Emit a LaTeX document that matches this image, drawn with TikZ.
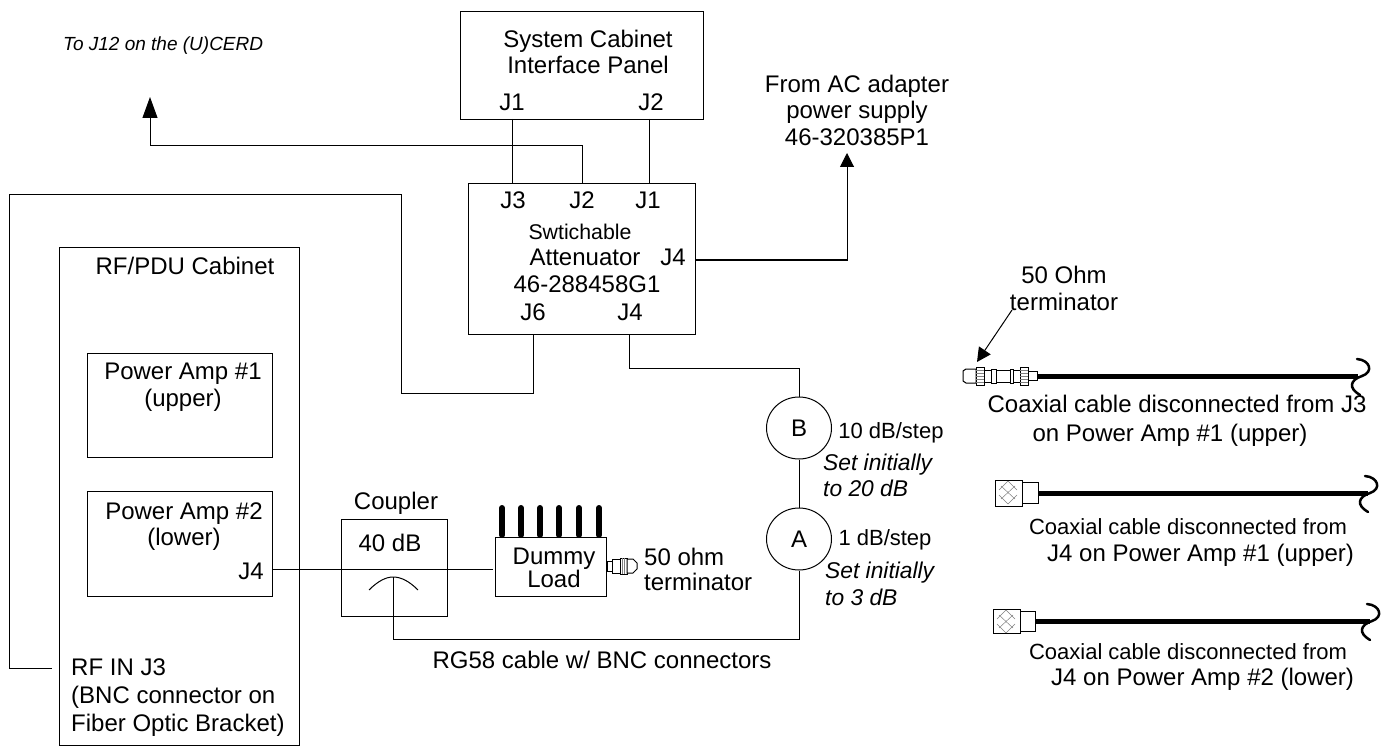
\documentclass[tikz,border=0pt]{standalone}
\usepackage{fontspec}
\setmainfont{Liberation Sans}
\usetikzlibrary{arrows.meta}
\usetikzlibrary{shapes}

\begin{document}
\begin{tikzpicture}[x=1pt,y=-1pt]
\tikzset{font=\fontsize{24}{26.5}\selectfont}
\tikzset{box/.style={draw, line width=1pt, inner sep=0pt, anchor=north west}}
\tikzset{dial/.style={draw, ellipse, line width=1pt, minimum width=65pt, minimum height=62pt, inner sep=0pt}}
\tikzset{txt/.style={inner sep=0pt, align=center}}
\tikzset{steptxt/.style={txt, font=\fontsize{22}{26}\selectfont}}
\tikzset{note/.style={inner sep=0pt, align=left, anchor=west, font=\fontsize{22.8}{26.5}\selectfont\itshape}}
\tikzset{wire/.style={draw, line width=1pt}}
\tikzset{feed/.style={draw, line width=1pt, -{Triangle[length=14pt,width=14pt]}}}
\tikzset{longfeed/.style={draw, line width=1pt, -{Triangle[length=21pt,width=15pt]}}}
\tikzset{coax/.style={draw, line width=5pt}}
\tikzset{tail/.style={draw, line width=2.5pt, line cap=round}}
\tikzset{fin/.style={draw, line width=6pt, line cap=round}}
\tikzset{plug/.style={draw, line width=1pt, fill=white}}
\tikzset{mesh/.style={draw, line width=0.5pt, gray}}
\useasboundingbox (0,0) rectangle (1387,746);
% boxes
\node[box, minimum width=243pt, minimum height=108pt] (panel) at (460,11) {};
\node[box, minimum width=227pt, minimum height=151pt] (atten) at (468,183) {};
\node[box, minimum width=240pt, minimum height=498pt] (cabinet) at (59,247) {};
\node[box, minimum width=185pt, minimum height=104pt] (ampone) at (87,353) {};
\node[box, minimum width=185pt, minimum height=105pt] (amptwo) at (87,491) {};
\node[box, minimum width=106pt, minimum height=97pt] (coupler) at (341,519) {};
\node[box, minimum width=111pt, minimum height=59pt] (dummy) at (495,537) {};
\node[dial] (stepb) at (799,428) {B};
\node[dial] (stepa) at (799,539) {A};
% ports
\coordinate (panelJa) at (512,119);
\coordinate (panelJb) at (649,119);
\coordinate (attenJc) at (512,183);
\coordinate (attenJb) at (582,183);
\coordinate (attenJa) at (649,183);
\coordinate (attenJd) at (695,260);
\coordinate (attenJf) at (533,334);
\coordinate (attenJe) at (629,334);
\coordinate (cerd) at (150,97);
\coordinate (adapter) at (847,153);
\coordinate (rfin) at (52,668);
\coordinate (ampJd) at (272,569);
\coordinate (loadin) at (493,569);
\coordinate (tap) at (393,577);
\coordinate (arcleft) at (369,590);
\coordinate (arcright) at (418,590);
% wires
\draw[wire] (panelJa) -- (attenJc);
\draw[wire] (panelJb) -- (attenJa);
\draw[longfeed] (attenJb) -- (582,146) -| (cerd);
\draw[feed] (attenJd) -| (adapter);
\draw[wire] (attenJf) -- (533,393) -| (401,195) -| (9,668) -- (rfin);
\draw[wire] (attenJe) -- (629,368) -| (stepb.north);
\draw[wire] (stepb) -- (stepa);
\draw[wire] (ampJd) -- (loadin);
\draw[wire] (stepa.south) -- (799,639) -| (tap);
\draw[wire] (arcleft) .. controls (378,581) and (386,577) .. (tap) .. controls (401,577) and (409,581) .. (arcright);
% load fins
\foreach \x in {502,521,540,559,579,599} {
  \draw[fin] (\x,508) -- (\x,535);
}
% load terminator
\draw[plug] (607,561) rectangle (612,571);
\draw[plug] (612,559) rectangle (620,573);
\draw[plug] (620,558) rectangle (627,574);
\draw[plug] (627,559) -- (633,559) -- (637,563) -- (637,569) -- (633,573) -- (627,573) -- cycle;
\foreach \x in {622,624} {
  \draw[mesh] (\x,558) -- (\x,574);
}
% cables
\coordinate (tipa) at (1037,376);
\coordinate (enda) at (1358,376);
\coordinate (tipb) at (1038,493);
\coordinate (endb) at (1368,493);
\coordinate (tipc) at (1035,621);
\coordinate (endc) at (1370,621);
\draw[coax] (tipa) -- (enda);
\draw[coax] (tipb) -- (endb);
\draw[coax] (tipc) -- (endc);
\foreach \y/\x in {376/1362,493/1370,621/1372} {
  \draw[tail] (\x-5,\y-17) .. controls (\x+8,\y-16) and (\x+12,\y-4) .. (\x,\y) .. controls (\x-12,\y+4) and (\x-14,\y+12) .. (\x-2,\y+19);
}
% top connector
\draw[plug] (963,371) -- (966,369) -- (976,369) -- (976,383) -- (966,383) -- (963,381) -- cycle;
\draw[plug] (976,367) rectangle (984,385);
\draw[plug] (984,370) rectangle (991,382);
\draw[plug] (991,369) rectangle (996,383);
\draw[plug] (996,370) rectangle (1010,382);
\draw[plug] (1010,369) rectangle (1013,383);
\draw[plug] (1013,370) rectangle (1020,382);
\draw[plug] (1020,367) rectangle (1028,385);
\draw[plug] (1028,371) rectangle (1037,380);
\foreach \y in {370,373,376,379,382} {
  \draw[mesh] (976,\y) -- (984,\y);
  \draw[mesh] (1020,\y) -- (1028,\y);
}
% crimp connectors
\draw[plug] (995,480) rectangle (1022,506);
\draw[plug] (1022,482) rectangle (1038,503);
\draw[plug] (993,609) rectangle (1020,633);
\draw[plug] (1020,611) rectangle (1035,631);
\foreach \y/\x in {480/995,609/993} {
  \draw[mesh] (\x+6,\y+6) -- (\x+20,\y+19);
  \draw[mesh] (\x+20,\y+6) -- (\x+6,\y+19);
  \draw[mesh] (\x+13,\y+1) -- (\x+22,\y+10);
  \draw[mesh] (\x+13,\y+1) -- (\x+4,\y+10);
  \draw[mesh] (\x+13,\y+24) -- (\x+22,\y+15);
  \draw[mesh] (\x+13,\y+24) -- (\x+4,\y+15);
}
% terminator pointer
\coordinate (termtail) at (1012,310);
\coordinate (termhead) at (977,362);
\draw[feed] (termtail) -- (termhead);
% labels
\node[note, font=\fontsize{19}{24}\selectfont\itshape] (cerdtxt) at (63,46) {To J12 on the (U)CERD};
\node[txt] (paneltxt) at (588,52) {System Cabinet\\Interface Panel};
\node[txt] (pj1) at (512,102) {J1};
\node[txt] (pj2) at (651,102) {J2};
\node[txt] (aj3) at (513,200) {J3};
\node[txt] (aj2) at (582,200) {J2};
\node[txt] (aj1) at (648,200) {J1};
\node[txt, font=\fontsize{21.3}{26}\selectfont] (sw) at (580,232) {Swtichable};
\node[txt] (att) at (585,257) {Attenuator};
\node[txt] (aj4) at (673,257) {J4};
\node[txt] (apn) at (587,284) {46-288458G1};
\node[txt] (aj6) at (533,312) {J6};
\node[txt] (aj5) at (630,312) {J4};
\node[txt] (actxt) at (857,110) {From AC adapter\\power supply\\46-320385P1};
\node[txt] (cabtxt) at (185,266) {RF/PDU Cabinet};
\node[txt] (onetxt) at (183,387) {Power Amp \#1\\(upper)};
\node[txt] (twotxt) at (184,526.5) {Power Amp \#2\\(lower)};
\node[txt] (j4txt) at (251,571) {J4};
\node[txt] (coutxt) at (396,503) {Coupler};
\node[txt] (dbtxt) at (390,543) {40 dB};
\node[txt, font=\fontsize{24}{21}\selectfont] (loadtxt) at (554,568) {Dummy\\Load};
\node[txt, align=left, anchor=west, font=\fontsize{24}{25}\selectfont] (termtxt) at (644,569.5) {50 ohm\\terminator};
\node[txt, align=left, anchor=west, font=\fontsize{24}{28}\selectfont] (rftxt) at (71,698) {RF IN J3\\(BNC connector on\\Fiber Optic Bracket)};
\node[txt] (rgtxt) at (602,660) {RG58 cable w/ BNC connectors};
\node[steptxt] (btxt) at (891,433) {10 dB/step};
\node[note] (bset) at (823,475.5) {Set initially\\to 20 dB};
\node[steptxt] (atxt) at (885,540) {1 dB/step};
\node[note] (aset) at (825,584) {Set initially\\to 3 dB};
\node[txt] (ohmtxt) at (1064,288.5) {50 Ohm\\terminator};
\node[txt, font=\fontsize{24}{29}\selectfont] (catxt) at (1177,420.5) {Coaxial cable disconnected from J3\\on Power Amp \#1 (upper)\hspace*{14pt}};
\node[txt, align=right] (cbtxt) at (1191.5,542.5) {{\fontsize{22}{26}\selectfont Coaxial cable disconnected from}\hspace*{7pt}\\J4 on Power Amp \#1 (upper)};
\node[txt, align=right] (cctxt) at (1191.5,667) {{\fontsize{22}{26}\selectfont Coaxial cable disconnected from}\hspace*{7pt}\\J4 on Power Amp \#2 (lower)};
\end{tikzpicture}
\end{document}
